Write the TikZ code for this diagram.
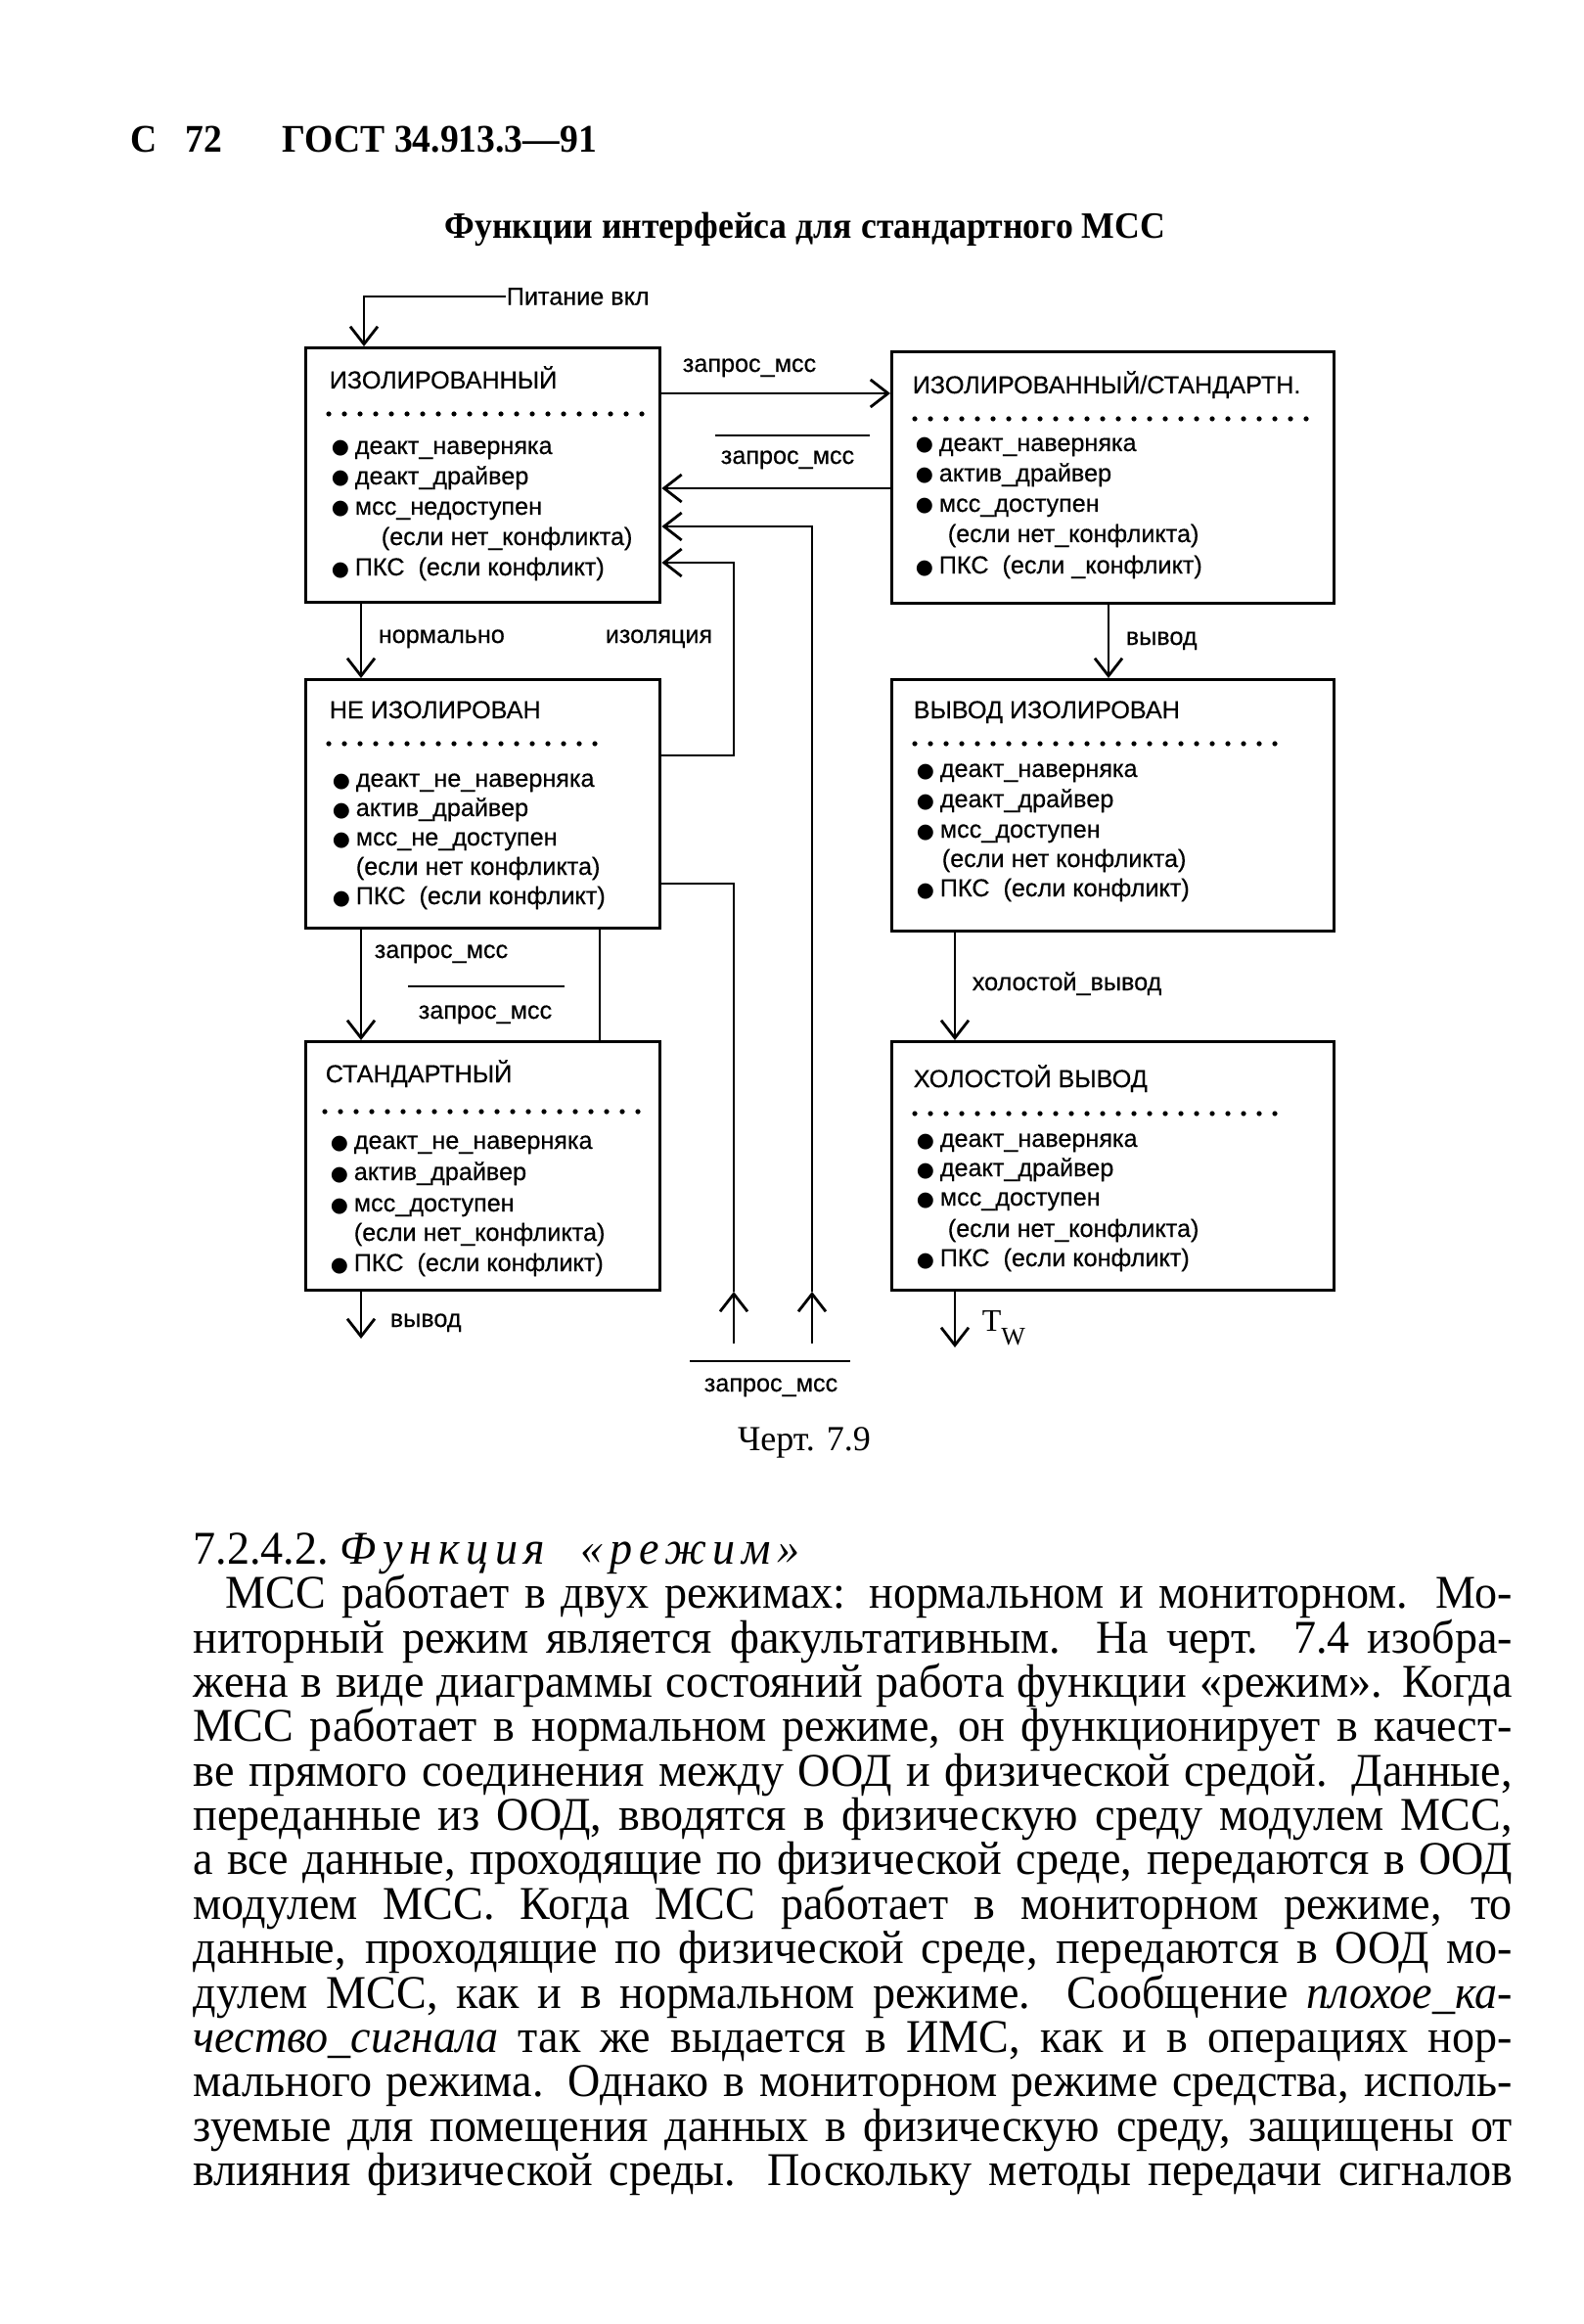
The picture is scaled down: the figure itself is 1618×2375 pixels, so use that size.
\documentclass[tikz,border=0pt]{standalone}
\usepackage{fontspec}
\setmainfont{Liberation Serif}
\newfontfamily\dsans[FakeBold=0.4]{Liberation Sans}
\newfontfamily\bsym{DejaVu Sans}
\newfontfamily\hdr[FakeStretch=0.94]{Liberation Serif}
\newfontfamily\bodyf[FakeStretch=0.96]{Liberation Serif}
\usetikzlibrary{arrows.meta}
\newcommand\bul{\makebox[6pt][l]{\bsym\fontsize{5.2}{6}\selectfont ●}}
\newcommand\bodyline[2]{\makebox[#1][s]{#2}}
\begin{document}
\begin{tikzpicture}[x=0.25pt,y=-0.25pt,
  statebox/.style={draw, line width=0.85pt, inner sep=0pt, anchor=north west},
  dtxt/.style={font=\dsans\fontsize{6.3}{7.5}\selectfont, inner sep=0pt, anchor=base west},
  ttl/.style={dtxt},
  lbl/.style={dtxt},
  dots/.style={line width=1.3pt, line cap=round, dash pattern=on 0pt off 4pt},
  conn/.style={line width=0.45pt},
  arr/.style={conn, -{Straight Barb[length=4.5pt,width=7pt,line width=0.7pt]}},
  ovl/.style={line width=0.5pt},
  body/.style={font=\bodyf\fontsize{12}{13}\selectfont, inner sep=0pt, anchor=base west}
]
\useasboundingbox (0,0) rectangle (1618,2375);

% ---------- page header ----------
\node[inner sep=0pt, anchor=base west, font=\hdr\bfseries\fontsize{10}{12}\selectfont] (hc) at (133,156) {С};
\node[inner sep=0pt, anchor=base west, font=\hdr\bfseries\fontsize{10}{12}\selectfont] (hn) at (189,156) {72};
\node[inner sep=0pt, anchor=base west, font=\hdr\bfseries\fontsize{10}{12}\selectfont] (hg) at (288,156) {ГОСТ 34.913.3—91};
\node[inner sep=0pt, anchor=base, font=\hdr\bfseries\fontsize{9.5}{11}\selectfont] (title) at (823,244) {Функции интерфейса для стандартного МСС};

% ---------- boxes ----------
\node[statebox, minimum width=362*0.25pt, minimum height=260*0.25pt] (b1) at (311,354) {};
\node[statebox, minimum width=452*0.25pt, minimum height=257*0.25pt] (b2) at (910,358) {};
\node[statebox, minimum width=362*0.25pt, minimum height=254*0.25pt] (b3) at (311,693) {};
\node[statebox, minimum width=452*0.25pt, minimum height=257*0.25pt] (b4) at (910,693) {};
\node[statebox, minimum width=362*0.25pt, minimum height=254*0.25pt] (b5) at (311,1063) {};
\node[statebox, minimum width=452*0.25pt, minimum height=254*0.25pt] (b6) at (910,1063) {};

% box 1
\node[ttl] (b1t) at (336,397) {ИЗОЛИРОВАННЫЙ};
\draw[dots] (336,423) -- (659,423);
\node[dtxt] (b1a) at (338,464) {\bul деакт\_наверняка};
\node[dtxt] (b1b) at (338,495) {\bul деакт\_драйвер};
\node[dtxt] (b1c) at (338,526) {\bul мсс\_недоступен};
\node[dtxt] (b1d) at (389,557) {(если нет\_конфликта)};
\node[dtxt] (b1e) at (338,588) {\bul ПКС\ \ (если конфликт)};

% box 2
\node[ttl] (b2t) at (932,402) {ИЗОЛИРОВАННЫЙ/СТАНДАРТН.};
\draw[dots] (935,428) -- (1340,428);
\node[dtxt] (b2a) at (935,461) {\bul деакт\_наверняка};
\node[dtxt] (b2b) at (935,492) {\bul актив\_драйвер};
\node[dtxt] (b2c) at (935,523) {\bul мсс\_доступен};
\node[dtxt] (b2d) at (968,554) {(если нет\_конфликта)};
\node[dtxt] (b2e) at (935,586) {\bul ПКС\ \ (если \_конфликт)};

% box 3
\node[ttl] (b3t) at (336,734) {НЕ ИЗОЛИРОВАН};
\draw[dots] (336,760) -- (614,760);
\node[dtxt] (b3a) at (339,804) {\bul деакт\_не\_наверняка};
\node[dtxt] (b3b) at (339,834) {\bul актив\_драйвер};
\node[dtxt] (b3c) at (339,864) {\bul мсс\_не\_доступен};
\node[dtxt] (b3d) at (363,894) {(если нет конфликта)};
\node[dtxt] (b3e) at (339,924) {\bul ПКС\ \ (если конфликт)};

% box 4
\node[ttl] (b4t) at (933,734) {ВЫВОД ИЗОЛИРОВАН};
\draw[dots] (935,760) -- (1313,760);
\node[dtxt] (b4a) at (936,794) {\bul деакт\_наверняка};
\node[dtxt] (b4b) at (936,825) {\bul деакт\_драйвер};
\node[dtxt] (b4c) at (936,856) {\bul мсс\_доступен};
\node[dtxt] (b4d) at (962,886) {(если нет конфликта)};
\node[dtxt] (b4e) at (936,916) {\bul ПКС\ \ (если конфликт)};

% box 5
\node[ttl] (b5t) at (332,1106) {СТАНДАРТНЫЙ};
\draw[dots] (332,1136) -- (655,1136);
\node[dtxt] (b5a) at (337,1174) {\bul деакт\_не\_наверняка};
\node[dtxt] (b5b) at (337,1206) {\bul актив\_драйвер};
\node[dtxt] (b5c) at (337,1238) {\bul мсс\_доступен};
\node[dtxt] (b5d) at (361,1268) {(если нет\_конфликта)};
\node[dtxt] (b5e) at (337,1299) {\bul ПКС\ \ (если конфликт)};

% box 6
\node[ttl] (b6t) at (933,1111) {ХОЛОСТОЙ ВЫВОД};
\draw[dots] (935,1138) -- (1313,1138);
\node[dtxt] (b6a) at (936,1172) {\bul деакт\_наверняка};
\node[dtxt] (b6b) at (936,1202) {\bul деакт\_драйвер};
\node[dtxt] (b6c) at (936,1232) {\bul мсс\_доступен};
\node[dtxt] (b6d) at (968,1264) {(если нет\_конфликта)};
\node[dtxt] (b6e) at (936,1294) {\bul ПКС\ \ (если конфликт)};

% ---------- connectors ----------
% power on
\node[lbl, anchor=west] (pw) at (517,303) {Питание вкл};
\coordinate (pwc) at (372,303);
\draw[arr] (pw.west) -- (pwc) -- (pwc |- b1.north);

% b1 -> b2
\coordinate (r1) at (700,402);
\draw[arr] (b1.east |- r1) -- (b2.west |- r1);
\node[lbl, anchor=base] (l1) at (766,380) {запрос\_мсс};
% b2 -> b1
\coordinate (r2) at (700,499);
\draw[arr] (b2.west |- r2) -- (b1.east |- r2);
\node[lbl, anchor=base] (l2) at (805,474) {запрос\_мсс};
\draw[ovl] (731,445) -- (889,445);

% loop A (bottom -> b1)
\coordinate (qa) at (830,1373);
\coordinate (ma) at (830,1320);
\coordinate (ta) at (830,538);
\draw[arr] (qa) -- (ma);
\draw[arr] (ma) -- (ta) -- (b1.east |- ta);
% loop B (b3 -> b1, izolyatsiya)
\coordinate (sb) at (750,772);
\coordinate (tb) at (750,575);
\draw[arr] (b3.east |- sb) -- (sb) -- (tb) -- (b1.east |- tb);
% loop C (bottom -> b3)
\coordinate (qc) at (750,1373);
\coordinate (mc) at (750,1320);
\coordinate (tc) at (750,903);
\draw[arr] (qc) -- (mc);
\draw[conn] (mc) -- (tc) -- (b3.east |- tc);
\node[lbl, anchor=base] (l3) at (788,1422) {запрос\_мсс};
\draw[ovl] (705,1391) -- (869,1391);

% b1 -> b3
\coordinate (xn) at (369,0);
\draw[arr] (b1.south -| xn) -- (b3.north -| xn);
\node[lbl] (l4) at (386,657) {нормально};
\node[lbl] (l5) at (618,657) {изоляция};

% b3 -> b5
\draw[arr] (b3.south -| xn) -- (b5.north -| xn);
\node[lbl] (l6) at (382,979) {запрос\_мсс};
% b5 -> b3
\coordinate (xq) at (613,0);
\draw[conn] (b5.north -| xq) -- (b3.south -| xq);
\node[lbl] (l7) at (427,1041) {запрос\_мсс};
\draw[ovl] (417,1008) -- (577,1008);

% b5 output
\coordinate (o5) at (369,1368);
\draw[arr] (b5.south -| o5) -- (o5);
\node[lbl] (l8) at (398,1356) {вывод};

% b2 -> b4
\coordinate (xv) at (1133,0);
\draw[arr] (b2.south -| xv) -- (b4.north -| xv);
\node[lbl] (l9) at (1150,659) {вывод};
% b4 -> b6
\coordinate (xh) at (976,0);
\draw[arr] (b4.south -| xh) -- (b6.north -| xh);
\node[lbl] (l10) at (993,1012) {холостой\_вывод};
% b6 output
\coordinate (o6) at (976,1377);
\draw[arr] (b6.south -| o6) -- (o6);
\node[inner sep=0pt, anchor=base west] (l11) at (1003,1360) {\fontsize{8}{8}\selectfont T\raisebox{-3.5pt}{\fontsize{6.5}{7}\selectfont W}};

% caption
\node[inner sep=0pt, anchor=base, font=\fontsize{9}{10}\selectfont] (cap) at (822,1482) {Черт. 7.9};

% ---------- body text ----------
\node[body] (t1) at (197,1598) {7.2.4.2.\ {\itshape\addfontfeature{LetterSpace=14}Функция\ \ «режим»}};
\node[body] (t2) at (230,1643) {\bodyline{328.75pt}{МСС работает в двух режимах: нормальном и мониторном. Мо-}};
\node[body] (t3) at (197,1689) {\bodyline{337pt}{ниторный режим является факультативным. На черт. 7.4 изобра-}};
\node[body] (t4) at (197,1734) {\bodyline{337pt}{жена в виде диаграммы состояний работа функции «режим». Когда}};
\node[body] (t5) at (197,1779) {\bodyline{337pt}{МСС работает в нормальном режиме, он функционирует в качест-}};
\node[body] (t6) at (197,1825) {\bodyline{337pt}{ве прямого соединения между ООД и физической средой. Данные,}};
\node[body] (t7) at (197,1870) {\bodyline{337pt}{переданные из ООД, вводятся в физическую среду модулем МСС,}};
\node[body] (t8) at (197,1915) {\bodyline{337pt}{а все данные, проходящие по физической среде, передаются в ООД}};
\node[body] (t9) at (197,1961) {\bodyline{337pt}{модулем МСС. Когда МСС работает в мониторном режиме, то}};
\node[body] (t10) at (197,2006) {\bodyline{337pt}{данные, проходящие по физической среде, передаются в ООД мо-}};
\node[body] (t11) at (197,2052) {\bodyline{337pt}{дулем МСС, как и в нормальном режиме. Сообщение {\itshape плохое\_ка-}}};
\node[body] (t12) at (197,2097) {\bodyline{337pt}{{\itshape чество\_сигнала} так же выдается в ИМС, как и в операциях нор-}};
\node[body] (t13) at (197,2142) {\bodyline{337pt}{мального режима. Однако в мониторном режиме средства, исполь-}};
\node[body] (t14) at (197,2188) {\bodyline{337pt}{зуемые для помещения данных в физическую среду, защищены от}};
\node[body] (t15) at (197,2233) {\bodyline{337pt}{влияния физической среды. Поскольку методы передачи сигналов}};
\end{tikzpicture}
\end{document}
